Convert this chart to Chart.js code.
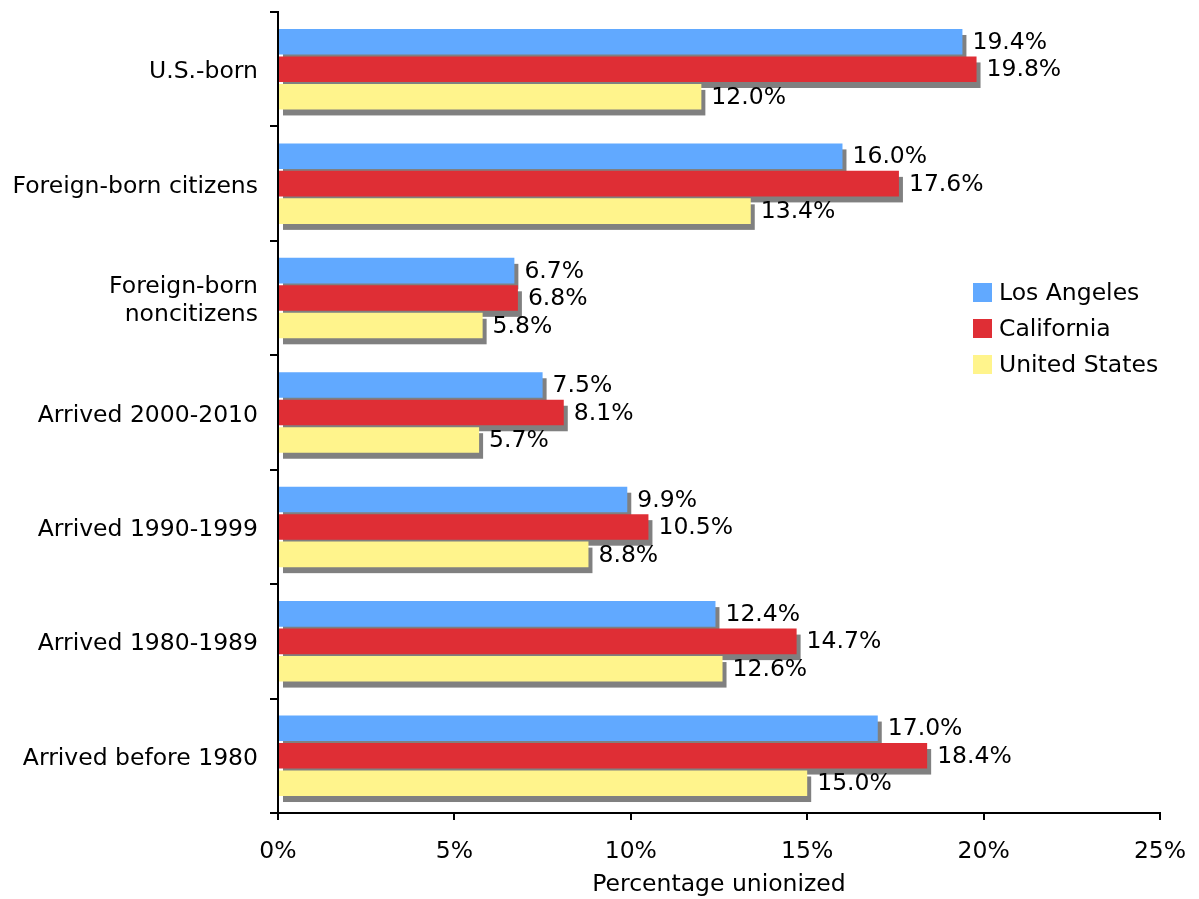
<!DOCTYPE html>
<html lang="en">
<head>
    <meta charset="UTF-8">
    <title>Percentage unionized by nativity</title>
    <script src="https://cdn.jsdelivr.net/npm/chart.js"></script>
    <style>
        body { margin: 0; background: #fff; }
        canvas { display: block; }
    </style>
</head>
<body>
<canvas id="unionChart" width="1199" height="899"></canvas>

<script>
    // Data
    const categories = [
        'U.S.-born',
        'Foreign-born citizens',
        ['Foreign-born', 'noncitizens'],
        'Arrived 2000-2010',
        'Arrived 1990-1999',
        'Arrived 1980-1989',
        'Arrived before 1980'
    ];
    const losAngeles   = [19.4, 16.0, 6.7, 7.5, 9.9, 12.4, 17.0];
    const california   = [19.8, 17.6, 6.8, 8.1, 10.5, 14.7, 18.4];
    const unitedStates = [12.0, 13.4, 5.8, 5.7, 8.8, 12.6, 15.0];
    const seriesNames  = ['Los Angeles', 'California', 'United States'];
    const xTicks       = [0, 5, 10, 15, 20, 25];

    const FONT = 'DejaVu Sans, Verdana, sans-serif';
    const FS = 23.5;
    Chart.defaults.font.family = FONT;
    Chart.defaults.font.size = FS;
    Chart.defaults.color = '#000';

    // gray drop shadow behind every bar
    const shadowPlugin = {
        id: 'barShadow',
        beforeDatasetsDraw(chart) {
            const ctx = chart.ctx;
            ctx.save();
            ctx.fillStyle = '#808080';
            chart.data.datasets.forEach((ds, i) => {
                chart.getDatasetMeta(i).data.forEach(bar => {
                    const left = Math.min(bar.base, bar.x);
                    const w = Math.abs(bar.x - bar.base);
                    ctx.fillRect(left + 4, bar.y - bar.height / 2 + 6, w, bar.height);
                });
            });
            ctx.restore();
        }
    };

    // value labels at the end of each bar
    const valueLabels = {
        id: 'valueLabels',
        afterDatasetsDraw(chart) {
            const ctx = chart.ctx;
            ctx.save();
            ctx.font = FS + 'px ' + FONT;
            ctx.fillStyle = '#000';
            ctx.textAlign = 'left';
            ctx.textBaseline = 'middle';
            chart.data.datasets.forEach((ds, i) => {
                chart.getDatasetMeta(i).data.forEach((bar, j) => {
                    ctx.fillText(ds.data[j].toFixed(1) + '%', bar.x + 10, bar.y + 1);
                });
            });
            ctx.restore();
        }
    };

    // legend sitting inside the plot area
    const insideLegend = {
        id: 'insideLegend',
        afterDraw(chart) {
            const ctx = chart.ctx;
            ctx.save();
            ctx.font = FS + 'px ' + FONT;
            ctx.textBaseline = 'middle';
            chart.data.datasets.forEach((ds, i) => {
                const y = 293 + i * 36;
                ctx.fillStyle = ds.backgroundColor;
                ctx.fillRect(973, y - 10, 19, 19);
                ctx.fillStyle = '#000';
                ctx.fillText(ds.label, 999, y + 1);
            });
            ctx.restore();
        }
    };

    const ctx = document.getElementById('unionChart').getContext('2d');
    const colors = ['#61A9FF', '#DF2E35', '#FFF48C'];
    const values = [losAngeles, california, unitedStates];

    new Chart(ctx, {
        type: 'bar',
        data: {
            labels: categories,
            datasets: values.map((v, i) => ({
                label: seriesNames[i],
                data: v,
                backgroundColor: colors[i],
                borderWidth: 0,
                categoryPercentage: 0.72,
                barPercentage: 0.93
            }))
        },
        options: {
            indexAxis: 'y',
            responsive: false,
            animation: false,
            layout: { padding: { top: 12, right: 39, left: 0, bottom: 0 } },
            plugins: {
                legend: { display: false },
                tooltip: { enabled: false }
            },
            scales: {
                x: {
                    min: 0,
                    max: 25,
                    afterBuildTicks: s => { s.ticks = xTicks.map(v => ({ value: v })); },
                    ticks: { callback: v => v + '%', padding: 18, maxRotation: 0 },
                    grid: { drawOnChartArea: false, color: '#000', lineWidth: 2, tickLength: 7 },
                    border: { color: '#000', width: 2 },
                    title: { display: true, text: 'Percentage unionized', padding: { top: 2, bottom: 0 } },
                    afterFit: s => { s.height = 86; s.paddingLeft = 0; s.paddingRight = 0; }
                },
                y: {
                    ticks: { padding: 12, labelOffset: 3 },
                    grid: { offset: true, drawOnChartArea: false, color: '#000', lineWidth: 2, tickLength: 8 },
                    border: { color: '#000', width: 2 },
                    afterFit: s => { s.width = 278; s.paddingTop = 0; s.paddingBottom = 0; }
                }
            }
        },
        plugins: [shadowPlugin, valueLabels, insideLegend]
    });
</script>
</body>
</html>
